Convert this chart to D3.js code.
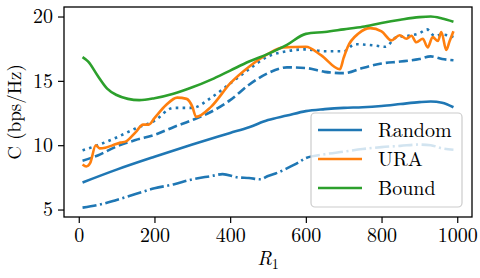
<!DOCTYPE html>
<html><head><meta charset="utf-8">
<script src="https://cdn.jsdelivr.net/npm/d3@7"></script>
<style>html,body{margin:0;padding:0;background:#fff;}svg{display:block;}</style>
</head><body>
<script>
// ---- data ----
const xTicks = [0, 200, 400, 600, 800, 1000];
const yTicks = [5, 10, 15, 20];
const legendLabels = ["Random", "URA", "Bound"];

const boundR = [10,25,50,75,100,130,160,200,250,300,350,400,450,500,550,600,650,700,750,800,850,900,930,960,990];
const boundC = [16.85,16.5,15.4,14.4,13.9,13.6,13.5,13.65,14.0,14.5,15.1,15.8,16.5,17.1,17.8,18.65,18.8,19.0,19.2,19.5,19.75,19.95,20.0,19.85,19.6];

const randomR = [10,100,200,300,400,450,500,550,600,650,700,750,800,850,900,930,960,990];
const randomC = [7.1,8.1,9.1,10.05,10.95,11.4,11.95,12.3,12.65,12.8,12.9,12.95,13.05,13.2,13.35,13.4,13.3,12.95];

const dashdotR = [10,50,100,150,200,250,300,350,380,420,450,480,500,520,550,580,600,650,700,750,800,850,900,930,960,990];
const dashdotC = [5.15,5.35,5.75,6.2,6.65,6.95,7.35,7.6,7.75,7.5,7.45,7.35,7.6,7.8,8.2,8.65,9.0,9.3,9.5,9.7,9.85,9.95,10.05,10.0,9.75,9.65];

const dashedR = [10,50,100,150,200,250,300,350,400,450,500,550,600,650,700,750,800,850,900,930,960,990];
const dashedC = [8.8,9.2,9.9,10.4,10.8,11.4,11.95,12.6,13.5,14.7,15.6,16.05,16.0,15.7,15.6,16.0,16.35,16.5,16.7,16.9,16.7,16.6];

const dottedR = [10,50,100,150,200,250,300,350,400,450,500,550,600,650,700,730,780,810,840,870,900,920,940,960,990];
const dottedC = [9.6,10.0,10.6,11.3,11.9,12.9,12.9,13.7,14.8,15.9,16.9,17.3,17.45,17.3,17.3,17.85,17.75,17.65,18.4,18.5,18.7,19.0,18.5,18.6,18.4];

const uraR = [10,20,30,45,55,70,90,110,125,150,170,185,200,230,260,285,300,310,350,400,450,500,540,600,640,690,700,710,740,770,800,826,848,866,879,892,909,922,935,949,958,971,980,990];
const uraC = [8.5,8.35,8.6,10.0,9.75,9.8,10.0,10.2,10.3,11.0,11.6,11.6,12.1,13.1,13.7,13.6,13.0,12.2,13.0,14.8,16.1,17.1,17.6,17.65,17.0,15.9,16.8,17.6,18.7,19.1,18.85,18.15,18.55,18.27,18.5,18.0,18.27,17.6,18.4,18.1,18.8,17.4,18.1,18.85];

// ---- layout ----
const W = 480, H = 278;
const m = {left: 64, right: 472, top: 7, bottom: 217};
const blue = "#1f77b4", orange = "#ff7f0e", green = "#2ca02c";
const LW = 2.6;
const FS = 20;
const FONT = '"Latin Modern Roman", "CMU Serif", "Liberation Serif", "DejaVu Serif", "Times New Roman", Times, "Noto Serif", FreeSerif, serif';

const x = d3.scaleLinear().domain([-39, 1039]).range([m.left, m.right]);
const y = d3.scaleLinear().domain([4.42, 20.74]).range([m.bottom, m.top]);

const svg = d3.select("body").append("svg").attr("width", W).attr("height", H);

svg.append("clipPath").attr("id", "clip").append("rect")
  .attr("x", m.left).attr("y", m.top).attr("width", m.right - m.left).attr("height", m.bottom - m.top);

const line = d3.line().x(d => x(d[0])).y(d => y(d[1])).curve(d3.curveMonotoneX);
const zip = (a, b) => a.map((v, i) => [v, b[i]]);

const series = [
  {r: randomR, c: randomC, color: blue, dash: null},
  {r: dashdotR, c: dashdotC, color: blue, dash: `${6.4*LW*0.85} ${1.6*LW*0.85} ${LW*0.8} ${1.6*LW*0.85}`},
  {r: dashedR, c: dashedC, color: blue, dash: `${3.7*LW*0.95} ${1.6*LW*0.95}`},
  {r: dottedR, c: dottedC, color: blue, dash: `${LW} ${1.65*LW}`},
  {r: uraR, c: uraC, color: orange, dash: null},
  {r: boundR, c: boundC, color: green, dash: null},
];

const g = svg.append("g").attr("clip-path", "url(#clip)");
series.forEach(s => {
  g.append("path").datum(zip(s.r, s.c))
    .attr("d", line).attr("fill", "none")
    .attr("stroke", s.color).attr("stroke-width", LW)
    .attr("stroke-dasharray", s.dash)
    .attr("stroke-linejoin", "round");
});

// axes
const xAxis = d3.axisBottom(x).tickValues(xTicks).tickFormat(d3.format("d")).tickSize(6).tickPadding(5);
const yAxis = d3.axisLeft(y).tickValues(yTicks).tickFormat(d3.format("d")).tickSize(6).tickPadding(5);
const gx = svg.append("g").attr("transform", `translate(0,${m.bottom})`).call(xAxis);
const gy = svg.append("g").attr("transform", `translate(${m.left},0)`).call(yAxis);
[gx, gy].forEach(a => {
  a.attr("font-family", FONT);
  a.select(".domain").remove();
  a.selectAll(".tick line").attr("stroke", "#000").attr("stroke-width", 1.2);
  a.selectAll(".tick text").style("font-family", FONT).attr("font-size", FS).attr("fill", "#000");
});

// frame
svg.append("rect").attr("x", m.left).attr("y", m.top)
  .attr("width", m.right - m.left).attr("height", m.bottom - m.top)
  .attr("fill", "none").attr("stroke", "#000").attr("stroke-width", 1.3);

// labels
svg.append("text").attr("transform", `translate(21,112) rotate(-90)`)
  .attr("text-anchor", "middle").style("font-family", FONT).attr("font-size", 19)
  .text("C (bps/Hz)");
const xl = svg.append("text").attr("x", 268).attr("y", 265)
  .attr("text-anchor", "middle").style("font-family", FONT).attr("font-size", FS);
xl.append("tspan").attr("font-style", "italic").text("R");
xl.append("tspan").attr("font-size", 14).attr("dy", 4).text("1");

// legend
const lg = svg.append("g");
lg.append("rect").attr("x", 311).attr("y", 113).attr("width", 151).attr("height", 94)
  .attr("rx", 4).attr("fill", "#fff").attr("fill-opacity", 0.8)
  .attr("stroke", "#cccccc").attr("stroke-width", 1.2);
const legColors = [blue, orange, green];
legendLabels.forEach((lab, i) => {
  const yy = 130 + i * 29;
  lg.append("line").attr("x1", 318).attr("x2", 362).attr("y1", yy).attr("y2", yy)
    .attr("stroke", legColors[i]).attr("stroke-width", LW);
  lg.append("text").attr("x", 378).attr("y", yy + 7)
    .style("font-family", FONT).attr("font-size", FS).text(lab);
});
</script>
</body></html>
